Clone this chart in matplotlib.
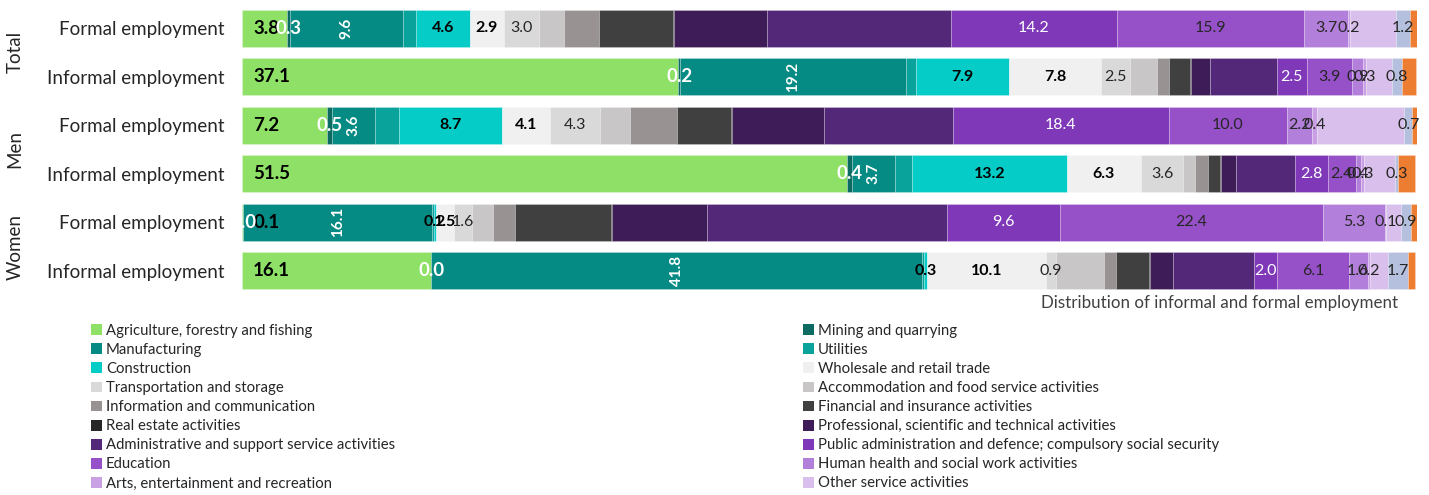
import matplotlib.pyplot as plt
import numpy as np
from matplotlib.patches import Patch

plt.rcParams["font.family"] = ["Lato", "DejaVu Sans"]

# rows: Total formal, Total informal, Men formal, Men informal, Women formal, Women informal
row_labels = ["Formal employment", "Informal employment"] * 3
groups = ["Total", "Men", "Women"]

sectors = [
    "Agriculture, forestry and fishing",
    "Mining and quarrying",
    "Manufacturing",
    "Utilities",
    "Construction",
    "Wholesale and retail trade",
    "Transportation and storage",
    "Accommodation and food service activities",
    "Information and communication",
    "Financial and insurance activities",
    "Real estate activities",
    "Professional, scientific and technical activities",
    "Administrative and support service activities",
    "Public administration and defence; compulsory social security",
    "Education",
    "Human health and social work activities",
    "Arts, entertainment and recreation",
    "Other service activities",
    "Activities of households as employers",
    "Activities of extraterritorial organizations",
]

agri = [3.8, 37.1, 7.2, 51.5, 0.1, 16.1]
mining = [0.3, 0.2, 0.5, 0.4, 0.0, 0.0]
manufacturing = [9.6, 19.2, 3.6, 3.7, 16.1, 41.8]
utilities = [1.1, 0.9, 2.1, 1.4, 0.1, 0.1]
construction = [4.6, 7.9, 8.7, 13.2, 0.2, 0.3]
wholesale = [2.9, 7.8, 4.1, 6.3, 1.5, 10.1]
transport = [3.0, 2.5, 4.3, 3.6, 1.6, 0.9]
accommodation = [2.1, 2.3, 2.5, 1.0, 1.8, 4.1]
information = [3.0, 1.0, 4.0, 1.1, 1.8, 1.0]
financial = [6.3, 1.8, 4.6, 1.0, 8.2, 2.8]
real_estate = [0.1, 0.1, 0.1, 0.1, 0.1, 0.1]
professional = [7.9, 1.6, 7.8, 1.3, 8.1, 1.9]
administrative = [15.6, 5.7, 11.0, 5.0, 20.4, 6.9]
public_admin = [14.2, 2.5, 18.4, 2.8, 9.6, 2.0]
education = [15.9, 3.9, 10.0, 2.4, 22.4, 6.1]
health = [3.7, 0.9, 2.2, 0.4, 5.3, 1.6]
arts = [0.2, 0.3, 0.4, 0.3, 0.1, 0.2]
other = [3.9, 2.2, 7.4, 2.6, 1.2, 1.5]
households = [1.2, 0.8, 0.7, 0.3, 0.9, 1.7]
extraterritorial = [0.6, 1.2, 0.5, 1.4, 0.5, 0.6]

series = [agri, mining, manufacturing, utilities, construction, wholesale,
          transport, accommodation, information, financial, real_estate,
          professional, administrative, public_admin, education, health,
          arts, other, households, extraterritorial]

colors = ["#8ee066", "#0b6b63", "#068a84", "#0aa39b", "#06ccc8", "#f0f0f0",
          "#d9d9d9", "#c8c6c6", "#999292", "#404040", "#262626", "#3e1c57",
          "#542878", "#7e38b8", "#9650c8", "#b280da", "#c9a0e4", "#d9bfeb",
          "#b4c0de", "#ed7d31"]

# label style per series index: (color, weight, size, rotation)
label_style = {
    0: ("black", "bold", 13.5, 0),
    1: ("white", "bold", 13.5, 0),
    2: ("white", "bold", 11, 90),
    4: ("black", "bold", 11.5, 0),
    5: ("black", "bold", 11.5, 0),
    6: ("#262626", "normal", 11.5, 0),
    13: ("white", "normal", 11.5, 0),
    14: ("#262626", "normal", 11.5, 0),
    15: ("#262626", "normal", 11.5, 0),
    16: ("#262626", "normal", 11.5, 0),
    18: ("#262626", "normal", 11.5, 0),
}

fig = plt.figure(figsize=(14.29, 4.95), dpi=100)
ax = fig.add_axes([242 / 1429, 1 - 295 / 495, 1175 / 1429, 291 / 495])

y = np.arange(len(row_labels))
left = np.zeros(len(row_labels))
for i, vals in enumerate(series):
    vals = np.array(vals)
    ax.barh(y, vals, left=left, height=0.77, color=colors[i],
            edgecolor=(1, 1, 1, 0.3), linewidth=0.5)
    if i in label_style:
        c, w, s, r = label_style[i]
        for j, v in enumerate(vals):
            if i == 0:
                ax.text(left[j] + 0.95, y[j], f"{v:.1f}", ha="left", va="center",
                        color=c, fontweight=w, fontsize=s)
            else:
                ax.text(left[j] + v / 2, y[j], f"{v:.1f}", ha="center", va="center",
                        color=c, fontweight=w, fontsize=s, rotation=r)
    left += vals

ax.set_xlim(0, 100)
ax.set_ylim(len(row_labels) - 0.5, -0.5)
ax.set_yticks(y)
ax.set_yticklabels(row_labels, fontsize=13.5, color="#262626")
ax.tick_params(axis="y", length=0, pad=12.5)
ax.set_xticks([])
for sp in ax.spines.values():
    sp.set_visible(False)

for g, name in enumerate(groups):
    fig.text(15 / 1429, 1 - (52 + 97.5 * g) / 495, name, rotation=90,
             ha="center", va="center", fontsize=13.5, color="#262626")

fig.text(1398 / 1429, 1 - 303 / 495, "Distribution of informal and formal employment",
         ha="right", va="center", fontsize=12.2, color="#404040")

handles = [Patch(facecolor=colors[k], label=sectors[k]) for k in range(18)]
left_col = handles[0::2]
right_col = handles[1::2]
leg_kw = dict(loc="upper left", frameon=False, fontsize=10.7, handlelength=0.75,
              handleheight=0.75, handletextpad=0.25, labelspacing=0.34,
              borderpad=0, borderaxespad=0, labelcolor="#262626")
fig.legend(handles=left_col, bbox_to_anchor=(91 / 1429, 1 - 324 / 495), **leg_kw)
fig.legend(handles=right_col, bbox_to_anchor=(803 / 1429, 1 - 324 / 495), **leg_kw)

fig.savefig("out.png", dpi=100)
